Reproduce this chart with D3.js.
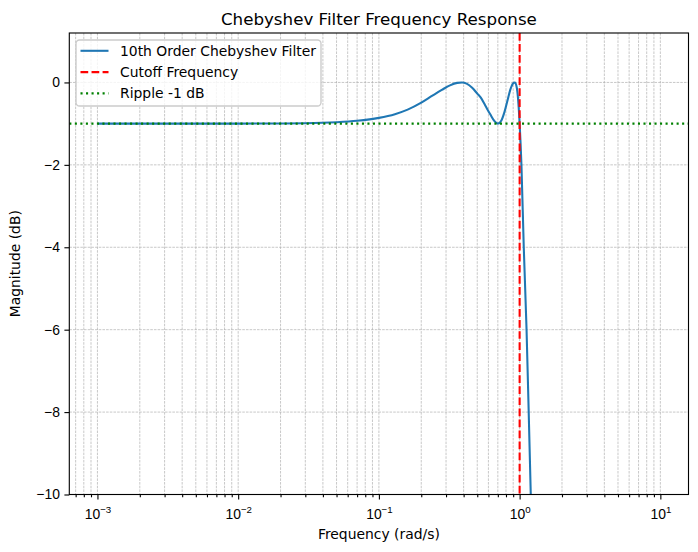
<html>
<head>
<meta charset="utf-8">
<script src="https://cdn.jsdelivr.net/npm/d3@7"></script>
<style>
  body { margin: 0; background: #fff; }
  svg { font-family: "DejaVu Sans", sans-serif; }
</style>
</head>
<body>
<svg id="chart"></svg>
<script>
// values
let freq = [0.001, 0.003, 0.01, 0.02, 0.03, 0.05, 0.07, 0.1, 0.13, 0.16, 0.2, 0.24, 0.28,
            0.32, 0.36, 0.39, 0.42, 0.46, 0.5, 0.53, 0.57, 0.62, 0.66, 0.7, 0.74, 0.78,
            0.82, 0.86, 0.9, 0.925, 0.95, 0.975, 1.0, 1.03, 1.07, 1.12, 1.16, 1.2, 1.24]
let magDb = [-1.0, -1.0, -1.0, -0.995, -0.99, -0.965, -0.93, -0.86, -0.77, -0.66, -0.49, -0.32, -0.18,
             -0.07, -0.01, 0.0, -0.03, -0.13, -0.27, -0.37, -0.56, -0.78, -0.93, -1.0, -0.93, -0.72,
             -0.44, -0.17, -0.02, 0.0, -0.09, -0.4, -1.0, -2.0, -4.0, -6.0, -8.0, -10.0, -12.0]
let cutoff = 1.0
let ripple = -1
let xMajorTicks = [1e-3, 1e-2, 1e-1, 1e0, 1e1]
let yTicks = [0, -2, -4, -6, -8, -10]
let legendLabels = ["10th Order Chebyshev Filter", "Cutoff Frequency", "Ripple -1 dB"]

// matplotlib points -> pixels at 100 dpi
let pt = 100 / 72

function getConfig() {
  let width = 698, height = 552
  let left = 69.3, right = 688.5, top = 33, bottom = 494.5
  let container = d3.select("#chart").attr("width", width).attr("height", height)
  return { width, height, left, right, top, bottom, container }
}

function getScales(config) {
  let xScale = d3.scaleLog()
    .domain([Math.pow(10, -3.2), Math.pow(10, 1.2)])
    .range([config.left, config.right])
  let yScale = d3.scaleLinear()
    .domain([-10, 1.2])
    .range([config.bottom, config.top])
  return { xScale, yScale }
}

function minorTicks(xScale) {
  let [lo, hi] = xScale.domain()
  let ticks = []
  for (let e = -4; e <= 1; e++) {
    for (let k = 2; k <= 9; k++) {
      let v = k * Math.pow(10, e)
      if (v >= lo && v <= hi) ticks.push(v)
    }
  }
  return ticks
}

function dashes(pattern, lw) {
  return pattern.map(v => v * lw).join(",")
}

function drawGrid(config, scales) {
  let { container, top, bottom, left, right } = config
  let { xScale, yScale } = scales
  let lw = 0.5 * pt
  let g = container.append("g")
    .attr("stroke", "#b0b0b0").attr("stroke-width", lw).attr("stroke-dasharray", dashes([3.7, 1.6], lw))
  let xs = xMajorTicks.concat(minorTicks(xScale))
  g.selectAll(".vgrid").data(xs).enter().append("line")
    .attr("x1", d => xScale(d)).attr("x2", d => xScale(d))
    .attr("y1", top).attr("y2", bottom)
  g.selectAll(".hgrid").data(yTicks).enter().append("line")
    .attr("x1", left).attr("x2", right)
    .attr("y1", d => yScale(d)).attr("y2", d => yScale(d))
}

function drawLines(config, scales) {
  let { container, top, bottom, left, right } = config
  let { xScale, yScale } = scales
  let lw = 1.5 * pt
  container.append("clipPath").attr("id", "clip")
    .append("rect").attr("x", left).attr("y", top)
    .attr("width", right - left).attr("height", bottom - top)
  let body = container.append("g").attr("clip-path", "url(#clip)")

  let points = freq.map((f, i) => [f, magDb[i]])
  let line = d3.line()
    .x(d => xScale(d[0])).y(d => yScale(d[1]))
    .curve(d3.curveMonotoneX)
  body.append("path").datum(points)
    .attr("d", line)
    .attr("fill", "none").attr("stroke", "#1f77b4").attr("stroke-width", lw)

  body.append("line")
    .attr("x1", xScale(cutoff)).attr("x2", xScale(cutoff))
    .attr("y1", top).attr("y2", bottom)
    .attr("stroke", "#ff0000").attr("stroke-width", lw).attr("stroke-dasharray", dashes([3.7, 1.6], lw))

  body.append("line")
    .attr("x1", left).attr("x2", right)
    .attr("y1", yScale(ripple)).attr("y2", yScale(ripple))
    .attr("stroke", "#008000").attr("stroke-width", lw).attr("stroke-dasharray", dashes([1, 1.65], lw))
}

function drawAxes(config, scales) {
  let { container, top, bottom, left, right } = config
  let { xScale, yScale } = scales

  let axisX = d3.axisBottom(xScale).tickValues(xMajorTicks).tickSize(4.9).tickPadding(4.5)
    .tickFormat(() => "")
  let gx = container.append("g").attr("transform", `translate(0,${bottom})`).call(axisX)
  gx.selectAll(".tick text").remove()
  gx.selectAll(".tick").append("text")
    .attr("y", 24.5).attr("fill", "#000").attr("font-size", 13.9).attr("text-anchor", "middle")
    .each(function(d) {
      let t = d3.select(this)
      t.append("tspan").text("10")
      t.append("tspan").attr("dy", -6).attr("font-size", 9.7)
        .text(String(Math.round(Math.log10(d))).replace("-", "\u2212"))
    })

  let axisMinor = d3.axisBottom(xScale).tickValues(minorTicks(xScale)).tickSize(2.8).tickFormat("")
  let gm = container.append("g").attr("transform", `translate(0,${bottom})`).call(axisMinor)
  gm.select(".domain").remove()

  let axisY = d3.axisLeft(yScale).tickValues(yTicks).tickSize(4.9).tickPadding(4.5)
    .tickFormat(d => String(d).replace("-", "\u2212"))
  let gy = container.append("g").attr("transform", `translate(${left},0)`).call(axisY)
  gy.selectAll(".tick text").attr("font-size", 13.9).attr("fill", "#000")

  container.selectAll(".domain").remove()
  container.selectAll(".tick line").attr("stroke", "#000").attr("stroke-width", 0.8 * pt)

  container.append("rect")
    .attr("x", left).attr("y", top).attr("width", right - left).attr("height", bottom - top)
    .attr("fill", "none").attr("stroke", "#000").attr("stroke-width", 0.8 * pt)

  let mid = (left + right) / 2
  container.append("text").attr("x", mid).attr("y", 24.5).attr("text-anchor", "middle")
    .attr("font-size", 16.7).text("Chebyshev Filter Frequency Response")
  container.append("text").attr("x", mid).attr("y", 539).attr("text-anchor", "middle")
    .attr("font-size", 13.9).text("Frequency (rad/s)")
  container.append("text")
    .attr("transform", `translate(20,${(top + bottom) / 2}) rotate(-90)`)
    .attr("text-anchor", "middle").attr("font-size", 13.9).text("Magnitude (dB)")
}

function drawLegend(config) {
  let { container } = config
  let lw = 1.5 * pt
  let g = container.append("g")
  g.append("rect").attr("x", 76).attr("y", 40).attr("width", 245).attr("height", 66)
    .attr("rx", 3.5).attr("fill", "#fff").attr("fill-opacity", 0.8)
    .attr("stroke", "#cccccc").attr("stroke-width", pt)
  let styles = [
    { color: "#1f77b4", dash: null },
    { color: "#ff0000", dash: dashes([3.7, 1.6], lw) },
    { color: "#008000", dash: dashes([1, 1.65], lw) }
  ]
  let rows = g.selectAll(".entry").data(legendLabels).enter().append("g")
    .attr("transform", (d, i) => `translate(0,${50.8 + i * 21.3})`)
  rows.append("line").attr("x1", 80.5).attr("x2", 108.5)
    .attr("stroke", (d, i) => styles[i].color).attr("stroke-width", lw)
    .attr("stroke-dasharray", (d, i) => styles[i].dash)
  rows.append("text").attr("x", 120).attr("y", 4.8).attr("font-size", 13.9).text(d => d)
}

let config = getConfig()
let scales = getScales(config)
drawGrid(config, scales)
drawLines(config, scales)
drawAxes(config, scales)
drawLegend(config)
</script>
</body>
</html>
